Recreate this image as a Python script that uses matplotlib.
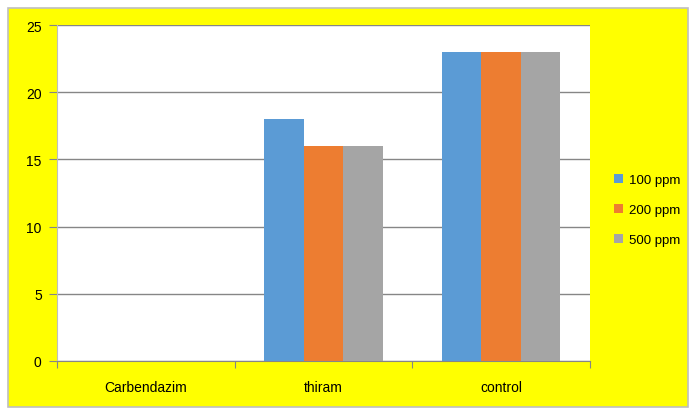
import matplotlib.pyplot as plt
import numpy as np
from matplotlib.patches import Rectangle

categories = ["Carbendazim", "thiram", "control"]
ppm_100 = [0, 18, 23]
ppm_200 = [0, 16, 23]
ppm_500 = [0, 16, 23]
series_labels = ["100 ppm", "200 ppm", "500 ppm"]
colors = ["#5B9BD5", "#ED7D31", "#A5A5A5"]

plt.rcParams["font.family"] = ["Liberation Sans", "DejaVu Sans"]

fig = plt.figure(figsize=(6.91, 4.10), dpi=100)
fig.patch.set_facecolor("white")
fig.patches.append(Rectangle((8 / 691, 2 / 410), 680 / 691, 399 / 410,
                             transform=fig.transFigure, facecolor="#FFFF00",
                             edgecolor="#BFBFBF", linewidth=1.2, zorder=-1))

ax = fig.add_axes([57 / 691, 48 / 410, 533 / 691, 336 / 410])
ax.set_facecolor("white")

x = np.arange(len(categories))
width = 0.222
for i, (vals, lab, col) in enumerate(zip([ppm_100, ppm_200, ppm_500], series_labels, colors)):
    ax.bar(x + (i - 1) * width, vals, width, color=col, label=lab, zorder=3)

ax.set_xlim(-0.5, 2.5)
ax.set_ylim(0, 25)
ax.set_yticks([0, 5, 10, 15, 20, 25])
ax.yaxis.grid(True, color="#868686", linewidth=1, zorder=0)
ax.tick_params(axis="y", length=6, color="#868686", labelsize=10, pad=5)

ax.set_xticks([-0.5, 0.5, 1.5, 2.5])
ax.set_xticklabels([])
ax.set_xticks(x, minor=True)
ax.set_xticklabels(categories, minor=True)
ax.tick_params(axis="x", which="major", length=5, color="#868686")
ax.tick_params(axis="x", which="minor", length=0, labelsize=10, pad=14)

for s in ["top", "right"]:
    ax.spines[s].set_visible(False)
ax.spines["left"].set_color("#BFBFBF")
ax.spines["bottom"].set_color("#868686")

fig.legend(loc="center left", bbox_to_anchor=(602 / 691, 1 - 211 / 410),
           frameon=False, fontsize=9.5, handlelength=0.7, handleheight=0.7,
           labelspacing=1.35, handletextpad=0.45)

fig.savefig("out.png", dpi=100)
